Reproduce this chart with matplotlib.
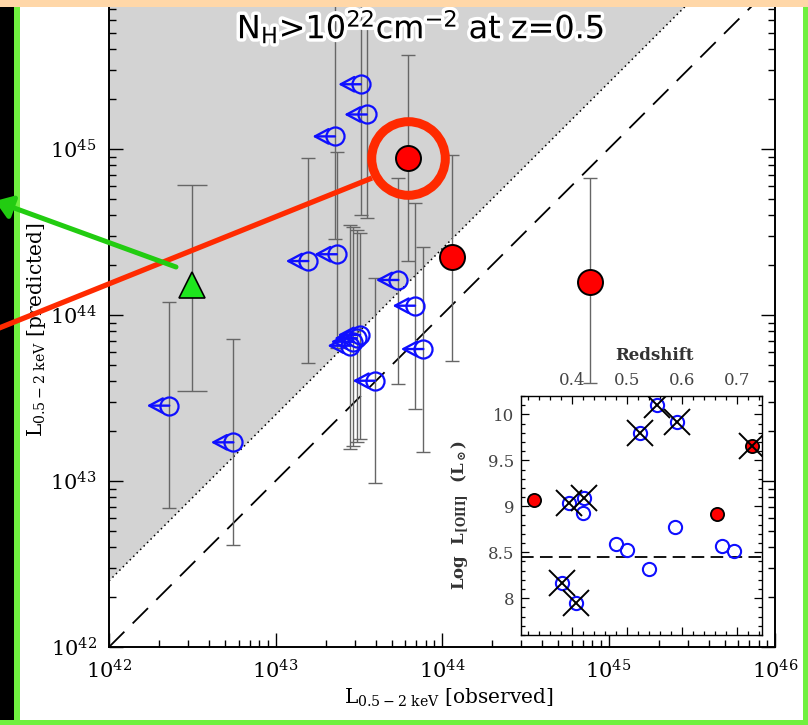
import numpy as np
import matplotlib.pyplot as plt
import matplotlib.patheffects as pe
from matplotlib.lines import Line2D
from matplotlib.patches import Rectangle, FancyArrowPatch
from matplotlib.ticker import LogLocator, MultipleLocator, NullFormatter

plt.rcParams['font.family'] = 'DejaVu Serif'
plt.rcParams['mathtext.fontset'] = 'dejavuserif'

W, H = 808, 725

# ---- main panel: log10 L(0.5-2 keV), observed vs predicted ----
# open blue circles = upper limits in observed luminosity
blue_lx = [43.512, 43.548, 43.357, 43.197, 43.368, 43.738, 43.838, 43.508,
           43.488, 43.467, 43.447, 43.888, 43.598, 42.362, 42.747]
blue_ly = [45.390, 45.208, 45.076, 44.325, 44.366, 44.211, 44.056, 43.880,
           43.860, 43.839, 43.815, 43.795, 43.604, 43.454, 43.233]
blue_lo = [44.600, 44.586, 44.456, 43.709, 43.800, 43.584, 43.432, 43.253,
           43.233, 43.213, 43.193, 43.173, 42.986, 42.836, 42.614]
blue_hi = [46.100, 46.100, 46.100, 44.948, 44.984, 44.827, 44.675, 44.496,
           44.515, 44.530, 44.545, 44.411, 44.220, 44.077, 43.853]

red_lx = [43.798, 44.060, 44.889]
red_ly = [44.948, 44.349, 44.199]
red_lo = [44.325, 43.725, 43.590]
red_hi = [45.564, 44.964, 44.825]

tri_lx = [42.500]
tri_ly = [44.181]
tri_lo = [43.542]
tri_hi = [44.783]

main_ticks = [1e42, 1e43, 1e44, 1e45, 1e46]
main_yticks = [1e42, 1e43, 1e44, 1e45]

# ---- inset: log L[OIII] vs redshift ----
z_open = [0.381, 0.407, 0.395, 0.422, 0.419, 0.524, 0.555, 0.591,
          0.479, 0.499, 0.539, 0.587, 0.672, 0.695]
l_open = [8.17, 7.95, 9.04, 9.09, 8.93, 9.80, 10.10, 9.92,
          8.59, 8.53, 8.32, 8.77, 8.57, 8.51]
z_red = [0.331, 0.663, 0.727]
l_red = [9.07, 8.92, 9.66]
z_cross = [0.381, 0.407, 0.395, 0.422, 0.524, 0.555, 0.591, 0.727]
l_cross = [8.17, 7.95, 9.04, 9.09, 9.80, 10.10, 9.92, 9.66]
oiii_cut = 8.45
inset_yticks = [8, 8.5, 9, 9.5, 10]
inset_ylabels = ['8', '8.5', '9', '9.5', '10']


def yerr(ly, lo, hi):
    y = 10 ** np.array(ly)
    return [y - 10 ** np.array(lo), 10 ** np.array(hi) - y]


def fx(x):
    return x / W


def fy(y):
    return 1 - y / H


fig = plt.figure(figsize=(W / 100, H / 100), dpi=100)
fig.patch.set_facecolor('white')

ax = fig.add_axes([fx(109), fy(647), 666 / W, 664 / H])
ax.set_xscale('log')
ax.set_yscale('log')

xx = np.logspace(42, 46, 100)
ax.fill_between(xx, 2.5 * xx, 1e47, color='#d3d3d3', lw=0, zorder=0)
ax.plot(xx, 2.5 * xx, color='k', lw=1.1, ls=(0, (1, 2.2)), zorder=1)
ax.plot(xx, xx, color='k', lw=1.3, ls=(0, (12, 6.5)), zorder=1)

eb = dict(fmt='none', ecolor='#666666', elinewidth=1.0, capthick=1.0, zorder=2)
ax.errorbar(10 ** np.array(blue_lx), 10 ** np.array(blue_ly),
            yerr=yerr(blue_ly, blue_lo, blue_hi), capsize=5, **eb)
ax.errorbar(10 ** np.array(red_lx), 10 ** np.array(red_ly),
            yerr=yerr(red_ly, red_lo, red_hi), capsize=5, **eb)
ax.errorbar(10 ** np.array(tri_lx), 10 ** np.array(tri_ly),
            yerr=yerr(tri_ly, tri_lo, tri_hi), capsize=11, **eb)

for lx, ly in zip(blue_lx, blue_ly):
    ax.annotate('', xy=(10 ** (lx - 0.135), 10 ** ly), xytext=(10 ** lx, 10 ** ly),
                arrowprops=dict(arrowstyle='->,head_length=0.75,head_width=0.4',
                                color='#0f0fff', lw=1.7, shrinkA=0, shrinkB=0,
                                mutation_scale=13),
                zorder=3)
ax.plot(10 ** np.array(blue_lx), 10 ** np.array(blue_ly), 'o', ms=13,
        mfc='none', mec='#0f0fff', mew=1.6, zorder=4)

ax.plot(10 ** np.array(red_lx), 10 ** np.array(red_ly), 'o', ms=18,
        mfc='#ff0000', mec='k', mew=1.4, zorder=5)
ax.plot(10 ** np.array(tri_lx), 10 ** np.array(tri_ly), '^', ms=19,
        mfc='#1ee61e', mec='k', mew=1.2, zorder=5)

# highlight ring around the brightest red source
ax.plot(10 ** red_lx[0], 10 ** red_ly[0], 'o', ms=53, mfc='none',
        mec='#ff2a00', mew=6.5, zorder=6)

ax.set_xlim(1e42, 1e46)
ax.set_ylim(1e42, 1e46)
ax.set_xticks(main_ticks)
ax.set_yticks(main_yticks)
for a in (ax.xaxis, ax.yaxis):
    a.set_minor_locator(LogLocator(base=10, subs=np.arange(2, 10), numticks=50))
    a.set_minor_formatter(NullFormatter())
ax.tick_params(which='both', direction='in', top=True, right=True, width=1.0)
ax.tick_params(which='major', length=10, labelsize=15, pad=9)
ax.tick_params(which='minor', length=5)
for s in ax.spines.values():
    s.set_linewidth(1.4)

fig.text(fx(449), fy(698), r'L$_{\mathregular{0.5-2\ keV}}$ [observed]',
         ha='center', va='center', fontsize=14.5)
fig.text(fx(37), fy(330), r'L$_{\mathregular{0.5-2\ keV}}$ [predicted]',
         ha='center', va='center', fontsize=14.5, rotation=90)

fig.text(fx(421), fy(27), r'N$_\mathregular{H}$>10$^{\mathregular{22}}$cm$^{\mathregular{-2}}$ at z=0.5',
         ha='center', va='center', fontsize=23, family='DejaVu Sans',
         path_effects=[pe.withStroke(linewidth=5, foreground='white')], zorder=8)

# ---- inset ----
axi = fig.add_axes([fx(521), fy(635), 241 / W, 239 / H])
axi.set_facecolor('white')
axi.set_zorder(3)
axi.axhline(oiii_cut, color='k', lw=1.3, ls=(0, (7, 3.5)), zorder=1)
axi.plot(z_open, l_open, 'o', ms=9.5, mfc='none', mec='#0f0fff', mew=1.5, zorder=3)
axi.plot(z_red, l_red, 'o', ms=9.5, mfc='#ff0000', mec='k', mew=1.3, zorder=3)
axi.plot(z_cross, l_cross, 'x', ms=19, mec='k', mew=1.4, zorder=4)
axi.set_xlim(0.307, 0.745)
axi.set_ylim(7.6, 10.2)
axi.xaxis.set_major_locator(MultipleLocator(0.1))
axi.xaxis.set_minor_locator(MultipleLocator(0.02))
axi.yaxis.set_minor_locator(MultipleLocator(0.1))
axi.set_yticks(inset_yticks)
axi.set_yticklabels(inset_ylabels)
axi.tick_params(which='both', direction='in', top=True, bottom=True, left=True,
                right=True, labeltop=True, labelbottom=False, width=0.9,
                labelsize=12, labelcolor='#444444', pad=5)
axi.tick_params(which='major', length=6)
axi.tick_params(which='minor', length=3)
axi.xaxis.set_label_position('top')
axi.set_xlabel('Redshift', fontsize=12, fontweight='bold', color='#333333')
axi.xaxis.set_label_coords((654 - 521) / 241, 1 + 36 / 239)
axi.set_ylabel(r'Log  $\mathbf{L_{[OIII]}}$  ($\mathbf{L_\odot}$)', fontsize=12,
               fontweight='bold', color='#333333')
axi.yaxis.set_label_coords(-(521 - 472) / 241, 0.5)
for s in axi.spines.values():
    s.set_linewidth(1.0)

# ---- frame decorations and pointers ----
fig.add_artist(Rectangle((0, fy(720)), 14 / W, (720 - 7) / H, transform=fig.transFigure,
                         color='black', lw=0, zorder=9))
fig.add_artist(Rectangle((14 / W, fy(725)), 5.5 / W, 718 / H, transform=fig.transFigure,
                         color='#70f040', lw=0, zorder=9))
fig.add_artist(Rectangle((803 / W, fy(725)), 5 / W, 718 / H, transform=fig.transFigure,
                         color='#70f040', lw=0, zorder=9))
fig.add_artist(Rectangle((0, 0), 1, 5 / H, transform=fig.transFigure,
                         color='#70f040', lw=0, zorder=9))
fig.add_artist(Rectangle((0, fy(7)), 1, 7 / H, transform=fig.transFigure,
                         color='#ffd7a8', lw=0, zorder=9))

fig.add_artist(Line2D([fx(-2), fx(372)], [fy(328.5), fy(178)], transform=fig.transFigure,
                      color='#ff2a00', lw=3.8, solid_capstyle='butt', zorder=10))
fig.add_artist(FancyArrowPatch((fx(176), fy(267)), (fx(-5), fy(201)),
                               transform=fig.transFigure, color='#22cc11', lw=3.6,
                               arrowstyle='-|>,head_length=0.5,head_width=0.35',
                               mutation_scale=20, shrinkA=0, shrinkB=0, zorder=10))

fig.savefig('out.png', dpi=100)
